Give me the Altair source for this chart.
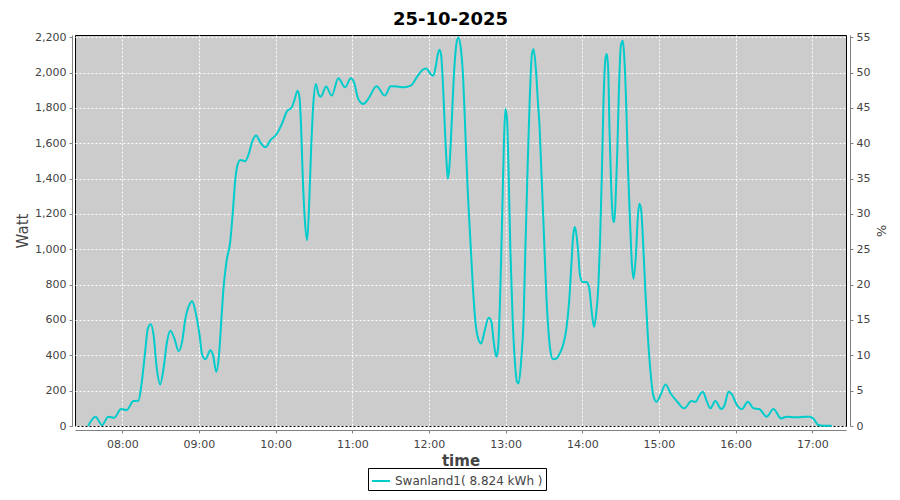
import altair as alt
import pandas as pd

times = [
    "07:33:12", "07:39:00", "07:44:12", "07:49:00", "07:53:42", "07:59:00", "08:03:24", "08:08:42",
    "08:12:36", "08:15:18", "08:17:54", "08:20:00", "08:22:24", "08:24:30", "08:27:00", "08:29:42",
    "08:32:18", "08:35:00", "08:37:36", "08:40:48", "08:44:12", "08:46:48", "08:49:24", "08:52:36",
    "08:54:42", "08:57:18", "09:00:30", "09:02:36", "09:05:12", "09:08:54", "09:11:00", "09:13:36",
    "09:15:42", "09:17:36", "09:19:12", "09:21:30", "09:24:36", "09:26:42", "09:28:30", "09:29:48",
    "09:32:24", "09:36:18", "09:39:00", "09:41:30", "09:44:42", "09:48:00", "09:52:00", "09:55:48",
    "10:01:00", "10:04:54", "10:08:48", "10:12:42", "10:14:36", "10:17:12", "10:18:42", "10:20:00",
    "10:21:18", "10:22:54", "10:24:42", "10:26:18", "10:27:48", "10:29:36", "10:31:30", "10:33:30",
    "10:35:24", "10:39:30", "10:43:54", "10:49:06", "10:54:18", "10:58:48", "11:01:24", "11:04:42",
    "11:08:36", "11:12:30", "11:19:00", "11:25:30", "11:30:06", "11:35:18", "11:40:30", "11:45:42",
    "11:50:54", "11:54:48", "11:57:54", "12:01:18", "12:03:24", "12:05:12", "12:07:00", "12:08:18",
    "12:09:36", "12:10:54", "12:12:30", "12:13:48", "12:14:48", "12:16:06", "12:17:42", "12:19:30",
    "12:21:18", "12:22:54", "12:24:42", "12:26:30", "12:28:36", "12:30:24", "12:32:30", "12:34:18",
    "12:36:24", "12:38:30", "12:40:48", "12:43:24", "12:46:48", "12:48:54", "12:50:42", "12:52:48",
    "12:54:06", "12:55:36", "12:57:12", "12:58:30", "12:59:48", "13:01:06", "13:02:24", "13:03:42",
    "13:05:30", "13:07:06", "13:08:54", "13:10:12", "13:12:18", "13:14:06", "13:15:24", "13:17:12",
    "13:18:48", "13:20:36", "13:21:54", "13:23:42", "13:25:18", "13:26:36", "13:27:54", "13:29:12",
    "13:30:30", "13:31:54", "13:33:24", "13:35:00", "13:37:06", "13:39:42", "13:42:24", "13:45:00",
    "13:47:36", "13:49:42", "13:51:36", "13:52:54", "13:54:12", "13:55:30", "13:56:48", "13:58:12",
    "14:00:18", "14:03:24", "14:05:30", "14:07:24", "14:09:12", "14:10:48", "14:12:36", "14:13:54",
    "14:15:18", "14:16:36", "14:18:06", "14:19:12", "14:20:18", "14:21:18", "14:22:36", "14:24:00",
    "14:25:00", "14:26:00", "14:27:24", "14:28:42", "14:30:12", "14:31:48", "14:33:06", "14:34:30",
    "14:35:48", "14:37:36", "14:38:54", "14:40:12", "14:42:06", "14:43:24", "14:44:42", "14:46:00",
    "14:47:36", "14:49:24", "14:51:18", "14:53:24", "14:55:30", "14:58:06", "15:01:12", "15:05:12",
    "15:09:12", "15:14:24", "15:19:42", "15:25:30", "15:28:54", "15:31:06", "15:34:18", "15:37:36",
    "15:40:12", "15:44:06", "15:48:48", "15:51:24", "15:54:30", "15:57:06", "16:01:00", "16:04:54",
    "16:09:36", "16:14:00", "16:18:30", "16:24:24", "16:29:36", "16:35:36", "16:40:00", "16:46:30",
    "16:51:42", "16:58:12", "17:00:48", "17:04:42", "17:08:36", "17:15:06",
]

watts = [
    0, 53, 5, 53, 47, 96, 90, 141,
    143, 250, 420, 552, 576, 514, 326, 235,
    326, 476, 539, 495, 424, 476, 608, 687,
    706, 646, 514, 401, 378, 429, 401, 307,
    401, 608, 778, 928, 1050, 1230, 1399, 1465,
    1506, 1499, 1540, 1606, 1644, 1606, 1578, 1616,
    1654, 1710, 1780, 1804, 1842, 1898, 1860, 1681,
    1399, 1164, 1051, 1267, 1569, 1832, 1936, 1879,
    1864, 1921, 1870, 1968, 1917, 1968, 1945, 1851,
    1823, 1851, 1923, 1870, 1923, 1921, 1917, 1926,
    1979, 2015, 2024, 1992, 1983, 2030, 2105, 2130,
    2096, 1945, 1681, 1493, 1399, 1474, 1700, 1983,
    2152, 2199, 2152, 2002, 1644, 1324, 1041, 797,
    589, 495, 467, 533, 612, 589, 476, 392,
    439, 702, 1154, 1550, 1795, 1738, 1418, 1004,
    608, 382, 250, 241, 382, 608, 985, 1456,
    1832, 2105, 2133, 2020, 1832, 1691, 1456, 1230,
    985, 740, 552, 429, 378, 382, 411, 458,
    552, 702, 928, 1079, 1126, 1079, 985, 853,
    815, 815, 778, 646, 561, 627, 797, 1041,
    1418, 1832, 2077, 2105, 2020, 1681, 1361, 1173,
    1154, 1267, 1550, 1908, 2152, 2181, 2058, 1795,
    1456, 1117, 910, 834, 985, 1173, 1258, 1230,
    1041, 759, 514, 307, 175, 137, 175, 235,
    184, 137, 100, 141, 137, 166, 194, 137,
    100, 141, 96, 119, 194, 179, 119, 96,
    137, 100, 96, 53, 96, 43, 53, 49,
    51, 53, 43, 6, 2, 2,
]

series_name = "Swanland1( 8.824 kWh )"
watt_ticks = [0, 200, 400, 600, 800, 1000, 1200, 1400, 1600, 1800, 2000, 2200]
pct_ticks = [0, 5, 10, 15, 20, 25, 30, 35, 40, 45, 50, 55]
hour_ticks = ["08:00", "09:00", "10:00", "11:00", "12:00", "13:00", "14:00", "15:00", "16:00", "17:00"]
x_range = ["07:23:00", "17:26:24"]


def to_min(s):
    parts = [int(p) for p in s.split(":")]
    while len(parts) < 3:
        parts.append(0)
    return parts[0] * 60 + parts[1] + parts[2] / 60.0


df = pd.DataFrame({
    "m": [to_min(s) for s in times],
    "watt": watts,
    "series": [series_name] * len(times),
})

FONT = "DejaVu Sans"
GRAY = "#808080"
TXT = "#444444"

label_expr = ("(floor(datum.value / 60) < 10 ? '0' : '') + floor(datum.value / 60) + ':' + "
              "(datum.value % 60 < 10 ? '0' : '') + round(datum.value % 60)")

x_enc = alt.X(
    "m:Q",
    scale=alt.Scale(domain=[to_min(x_range[0]), to_min(x_range[1])], nice=False, zero=False),
    axis=alt.Axis(
        title="time", values=[to_min(h) for h in hour_ticks], labelExpr=label_expr,
        offset=4, grid=True, gridColor="white", gridDash=[2, 2], gridWidth=1,
        domainColor=GRAY, tickColor=GRAY, tickSize=3, labelFont=FONT, labelFontSize=11,
        labelColor=TXT, labelPadding=5, titleFont=FONT, titleFontSize=15, titleFontWeight="bold",
        titleColor=TXT, titlePadding=4,
    ),
)

line = alt.Chart(df).mark_line(strokeWidth=2, interpolate="monotone").encode(
    x=x_enc,
    y=alt.Y(
        "watt:Q",
        scale=alt.Scale(domain=[0, 2213], nice=False, zero=True),
        axis=alt.Axis(
            title="Watt", values=watt_ticks, format=",d", offset=3, grid=True,
            gridColor="white", gridDash=[2, 2], gridWidth=1,
            domainColor=GRAY, tickColor=GRAY, tickSize=3, labelFont=FONT, labelFontSize=11,
            labelColor=TXT, labelPadding=3, titleFont=FONT, titleFontSize=15, titleFontWeight="normal",
            titleColor=TXT, titlePadding=4,
        ),
    ),
    color=alt.Color(
        "series:N",
        scale=alt.Scale(domain=[series_name], range=["#00CCCC"]),
        legend=alt.Legend(
            title=None, orient="none", legendX=293, legendY=433, symbolType="stroke",
            symbolStrokeWidth=2, symbolSize=320, strokeColor="black", fillColor="white",
            padding=3, labelFont=FONT, labelFontSize=12, labelColor=TXT,
        ),
    ),
)

pct = alt.Chart(df).transform_calculate(pct="datum.watt / 40").mark_line(opacity=0).encode(
    x=alt.X("m:Q"),
    y=alt.Y(
        "pct:Q",
        scale=alt.Scale(domain=[0, 2213 / 40], nice=False),
        axis=alt.Axis(
            title="%", orient="right", values=pct_ticks, offset=4, grid=False,
            domainColor=GRAY, tickColor=GRAY, tickSize=3, labelFont=FONT, labelFontSize=11,
            labelColor=TXT, labelPadding=3, titleFont=FONT, titleFontSize=13,
            titleFontWeight="normal", titleColor=TXT, titlePadding=4,
        ),
    ),
)

chart = alt.layer(line, pct).resolve_scale(y="independent").properties(
    width=771,
    height=391,
    autosize="none",
    padding={"left": 67, "top": 27, "right": 46, "bottom": 66},
    title=alt.TitleParams(
        "25-10-2025", font=FONT, fontSize=18, fontWeight="bold", color="black",
        offset=2, anchor="middle", dx=-10,
    ),
).configure_view(fill="#CCCCCC", stroke="black", strokeWidth=1)

chart.save("out.html", embed_options={"renderer": "svg", "actions": False})
